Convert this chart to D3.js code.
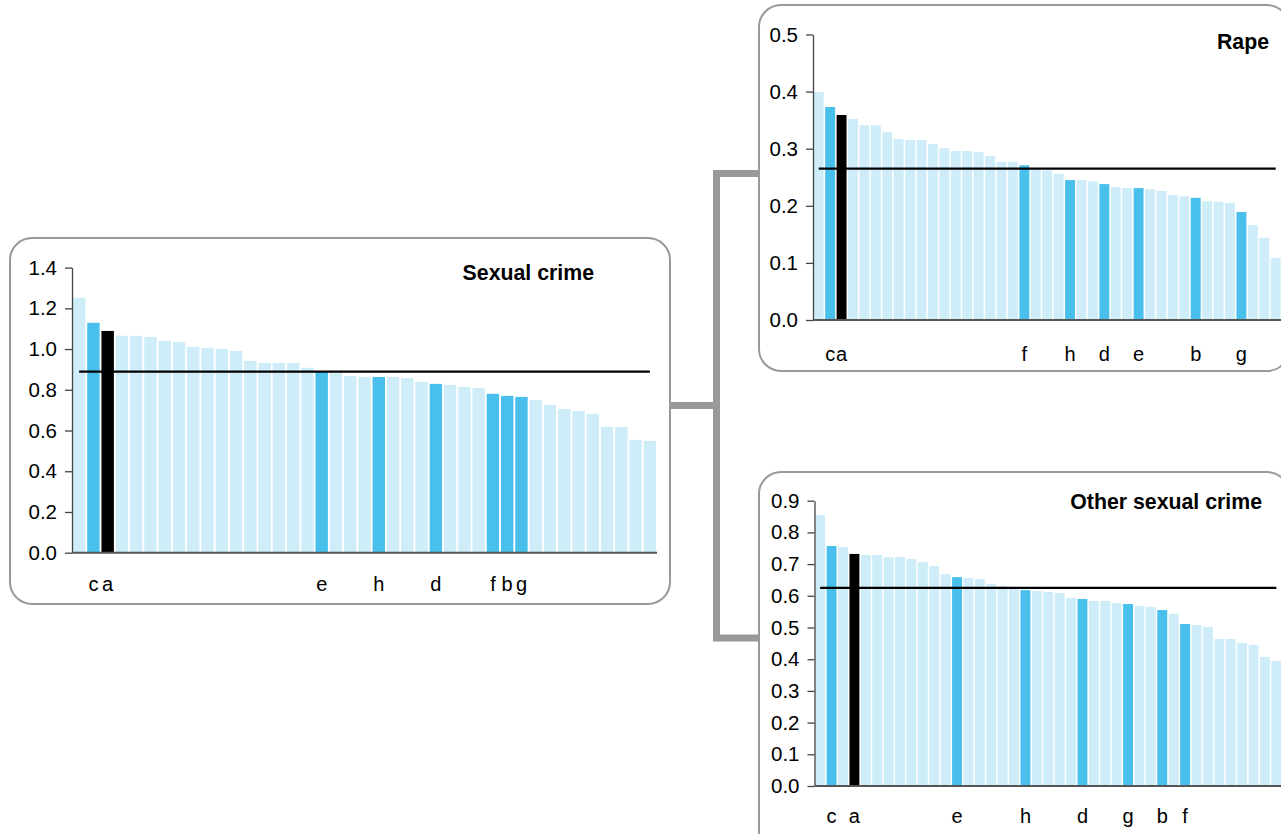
<!DOCTYPE html>
<html>
<head>
<meta charset="utf-8">
<script src="https://cdn.jsdelivr.net/npm/d3@7/dist/d3.min.js"></script>
<style>
  html, body { margin: 0; padding: 0; background: #fff; overflow: hidden; }
  svg { display: block; font-family: "Liberation Sans", Arial, Helvetica, sans-serif; }
</style>
</head>
<body>
<svg id="chart" width="1281" height="834"></svg>
<script>
// ---------------- DATA ----------------
const sexualCrimeValues = [1.252,1.129,1.089,1.065,1.065,1.060,1.040,1.035,1.011,1.006,
  1.001,0.991,0.942,0.932,0.932,0.932,0.908,0.889,0.885,0.868,
  0.863,0.863,0.863,0.858,0.839,0.829,0.824,0.814,0.809,0.780,
  0.770,0.765,0.750,0.726,0.706,0.696,0.682,0.618,0.618,0.554,0.549];
const sexualCrimeLabels = ["","c","a","","","","","","","",
  "","","","","","","","e","","",
  "","h","","","","d","","","","f",
  "b","g","","","","","","","","",""];
const sexualCrimeAverage = 0.889;

const rapeValues = [0.399,0.373,0.359,0.352,0.341,0.341,0.329,0.317,0.315,0.315,
  0.308,0.301,0.296,0.296,0.294,0.287,0.277,0.277,0.271,0.266,
  0.262,0.256,0.245,0.245,0.243,0.238,0.233,0.231,0.231,0.229,
  0.226,0.219,0.217,0.214,0.208,0.207,0.205,0.189,0.166,0.144,0.109];
const rapeLabels = ["","c","a","","","","","","","",
  "","","","","","","","","f","",
  "","","h","","","d","","","e","",
  "","","","b","","","","g","","",""];
const rapeAverage = 0.265;

const otherValues = [0.855,0.757,0.754,0.732,0.729,0.729,0.722,0.722,0.716,0.707,
  0.694,0.669,0.659,0.656,0.653,0.637,0.631,0.628,0.618,0.615,
  0.612,0.609,0.593,0.590,0.584,0.584,0.577,0.574,0.568,0.565,
  0.555,0.543,0.511,0.508,0.502,0.464,0.464,0.451,0.445,0.407,0.394];
const otherLabels = ["","c","","a","","","","","","",
  "","","e","","","","","","h","",
  "","","","d","","","","g","","",
  "b","","f","","","","","","","",""];
const otherAverage = 0.625;

const titles = ["Sexual crime", "Rape", "Other sexual crime"];
const yMaxes = [1.4, 0.5, 0.9];
const yTickSteps = [0.2, 0.1, 0.1];
const focusLabel = "a";

// ---------------- STYLE ----------------
const LIGHT = "#ceedf8", DARK = "#48c0eb", BLACK = "#000000";
const FRAME = "#999999";

const svg = d3.select("#chart");

// frames
const frames = [
  {x: 10, y: 238, w: 660, h: 366},
  {x: 759, y: 5, w: 530, h: 366},
  {x: 759, y: 472, w: 530, h: 400}
];
svg.selectAll("rect.frame").data(frames).join("rect")
  .attr("class", "frame")
  .attr("x", d => d.x).attr("y", d => d.y)
  .attr("width", d => d.w).attr("height", d => d.h)
  .attr("rx", 22).attr("ry", 22)
  .attr("fill", "#fff").attr("stroke", FRAME).attr("stroke-width", 2);

// connector
const conn = d3.path();
conn.moveTo(670, 405.5); conn.lineTo(716.5, 405.5);
conn.moveTo(716.5, 173.5); conn.lineTo(716.5, 638);
conn.moveTo(713, 173.5); conn.lineTo(759, 173.5);
conn.moveTo(713, 638); conn.lineTo(759, 638);
svg.append("path").attr("d", conn.toString())
  .attr("fill", "none").attr("stroke", FRAME).attr("stroke-width", 7);

const panels = [
  {values: sexualCrimeValues, labels: sexualCrimeLabels, avg: sexualCrimeAverage,
   x0: 72, x1: 657, yZero: 552.7, yTop: 267.6, labelY: 591,
   titleX: 594, titleY: 280},
  {values: rapeValues, labels: rapeLabels, avg: rapeAverage,
   x0: 813, x1: 1281.4, yZero: 320, yTop: 34.5, labelY: 361,
   titleX: 1269, titleY: 49},
  {values: otherValues, labels: otherLabels, avg: otherAverage,
   x0: 814.5, x1: 1282, yZero: 786, yTop: 500.7, labelY: 823,
   titleX: 1262, titleY: 509}
];

panels.forEach((p, pi) => {
  const g = svg.append("g");
  const idx = d3.range(p.values.length);
  const x = d3.scaleBand().domain(idx).range([p.x0, p.x1])
    .paddingInner(0.13).paddingOuter(0.065);
  const y = d3.scaleLinear().domain([0, yMaxes[pi]]).range([p.yZero, p.yTop]);

  // bars
  g.selectAll("rect.bar").data(idx).join("rect")
    .attr("class", "bar")
    .attr("x", i => x(i))
    .attr("width", x.bandwidth())
    .attr("y", i => y(p.values[i]))
    .attr("height", i => y(0) - y(p.values[i]))
    .attr("fill", i => p.labels[i] === focusLabel ? BLACK : (p.labels[i] ? DARK : LIGHT));

  // y axis
  const ticks = d3.range(0, yMaxes[pi] + 1e-9, yTickSteps[pi]);
  const ax = d3.axisLeft(y).tickValues(ticks).tickFormat(d3.format(".1f"))
    .tickSize(7).tickSizeOuter(0).tickPadding(8);
  const ag = g.append("g").attr("transform", `translate(${p.x0},0)`).call(ax);
  ag.select(".domain").attr("stroke", "#444").attr("stroke-width", 1.3);
  ag.selectAll(".tick line").attr("stroke", "#444").attr("stroke-width", 1.3);
  ag.selectAll(".tick text").attr("font-size", 20.5).attr("fill", "#000")
    .attr("font-family", "'Liberation Sans', Arial, sans-serif");

  // x axis baseline
  g.append("line").attr("x1", p.x0).attr("x2", p.x1)
    .attr("y1", y(0)).attr("y2", y(0))
    .attr("stroke", "#555").attr("stroke-width", 2);

  // average line
  const c0 = x(0) + x.bandwidth() / 2;
  const c1 = x(idx.length - 1) + x.bandwidth() / 2;
  g.append("line").attr("x1", c0).attr("x2", c1)
    .attr("y1", y(p.avg)).attr("y2", y(p.avg))
    .attr("stroke", "#000").attr("stroke-width", 2.2);

  // category labels
  g.selectAll("text.cat").data(idx.filter(i => p.labels[i])).join("text")
    .attr("class", "cat")
    .attr("x", i => x(i) + x.bandwidth() / 2)
    .attr("y", p.labelY)
    .attr("text-anchor", "middle")
    .attr("font-size", 20).attr("fill", "#000")
    .text(i => p.labels[i]);

  // title
  g.append("text").attr("x", p.titleX).attr("y", p.titleY)
    .attr("text-anchor", "end").attr("font-weight", "bold")
    .attr("font-size", 21.3).attr("fill", "#000")
    .text(titles[pi]);
});
</script>
</body>
</html>
